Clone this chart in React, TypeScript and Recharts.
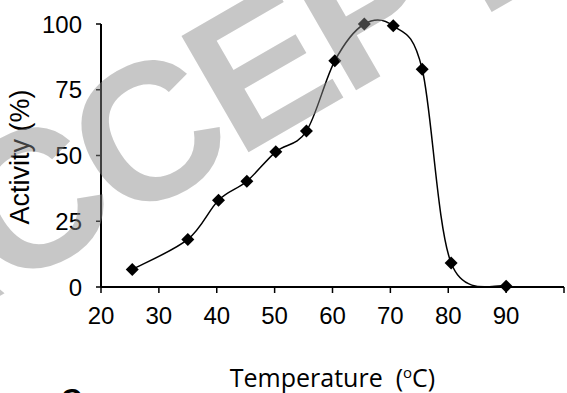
import React from 'react';
import { LineChart, Line, XAxis, YAxis } from 'recharts';

const temperatures = [25.4, 35.0, 40.3, 45.2, 50.2, 55.5, 60.4, 65.5, 70.5, 75.5, 80.5, 90.0];
const activities = [6.7, 18.1, 33.0, 40.2, 51.4, 59.3, 86.0, 100.0, 99.3, 82.8, 9.1, 0.3];
const xTicks = [20, 30, 40, 50, 60, 70, 80, 90, 100];
const yTicks = [0, 25, 50, 75, 100];
const xTitle = 'Temperature';
const yTitle = 'Activity (%)';
const panelLabel = 'C';
const watermark = 'ACCEPTED MANUSCRIPT';

const data = temperatures.map((t, i) => ({ temp: t, activity: activities[i] }));

// Excel-like smooth curve (Catmull-Rom through every point)
function smoothCurve(context: any) {
  let pts: number[][] = [];
  return {
    areaStart() {},
    areaEnd() {},
    lineStart() {
      pts = [];
    },
    point(x: number, y: number) {
      pts.push([+x, +y]);
    },
    lineEnd() {
      const n = pts.length;
      if (!n) return;
      context.moveTo(pts[0][0], pts[0][1]);
      for (let i = 0; i < n - 1; i++) {
        const p0 = pts[i - 1] || pts[i];
        const p1 = pts[i];
        const p2 = pts[i + 1];
        const p3 = pts[i + 2] || pts[i + 1];
        context.bezierCurveTo(
          p1[0] + (p2[0] - p0[0]) / 6,
          p1[1] + (p2[1] - p0[1]) / 6,
          p2[0] - (p3[0] - p1[0]) / 6,
          p2[1] - (p3[1] - p1[1]) / 6,
          p2[0],
          p2[1]
        );
      }
    },
  };
}

const Diamond = (props: any) => {
  const { cx, cy, index } = props;
  if (cx == null || cy == null) return <g key={`d-${index}`} />;
  const r = 6.5;
  return (
    <path
      key={`d-${index}`}
      d={`M${cx},${cy - r}L${cx + r},${cy}L${cx},${cy + r}L${cx - r},${cy}Z`}
      fill="#000"
    />
  );
};

const XLabel = (props: any) => {
  const vb = props.viewBox || { x: 101, y: 287, width: 463 };
  const cx = vb.x + vb.width / 2;
  return (
    <g>
      <text
        x={cx}
        y={vb.y + 100}
        textAnchor="middle"
        fontFamily="'Open Sans', sans-serif"
        fontSize={25}
        fill="#000"
      >
        {xTitle}
        {'\u00a0\u00a0('}
        <tspan fontSize={15} dy={-9}>o</tspan>
        <tspan dy={9}>C)</tspan>
      </text>
      <text x={61} y={409} fontFamily="'Liberation Sans', Arial, sans-serif" fontWeight="bold" fontSize={29} fill="#000">
        {panelLabel}
      </text>
    </g>
  );
};

const YLabel = (props: any) => {
  const vb = props.viewBox || { x: 0, y: 24, width: 101, height: 263 };
  const cx = 29;
  const cy = vb.y + vb.height / 2 + 1.5;
  return (
    <text
      x={cx}
      y={cy}
      transform={`rotate(-90 ${cx} ${cy})`}
      textAnchor="middle"
      fontFamily="'Liberation Sans', Arial, sans-serif"
      fontSize={27}
      fill="#000"
    >
      {yTitle}
    </text>
  );
};

const tickStyle = { fontFamily: "'Liberation Sans', Arial, sans-serif", fontSize: 24, fill: '#000' };

export default function App() {
  return (
    <div style={{ position: 'absolute', left: 0, top: 0, width: 567, height: 393, background: '#fff', overflow: 'hidden' }}>
      <LineChart width={567} height={393} data={data} margin={{ top: 24, right: 3, bottom: 0, left: 0 }}>
        <XAxis
          dataKey="temp"
          type="number"
          domain={[20, 100]}
          ticks={xTicks}
          interval={0}
          tickFormatter={(v: number) => (v >= 100 ? '' : String(v))}
          tick={tickStyle}
          tickSize={6}
          tickMargin={14}
          height={106}
          axisLine={{ stroke: '#000', strokeWidth: 2 }}
          tickLine={{ stroke: '#000', strokeWidth: 1.5 }}
          label={<XLabel />}
        />
        <YAxis
          type="number"
          domain={[0, 100]}
          ticks={yTicks}
          interval={0}
          tick={tickStyle}
          tickSize={5}
          tickMargin={14}
          width={101}
          axisLine={{ stroke: '#000', strokeWidth: 2 }}
          tickLine={{ stroke: '#000', strokeWidth: 1.5 }}
          label={<YLabel />}
        />
        <Line
          dataKey="activity"
          type={smoothCurve as any}
          stroke="#000"
          strokeWidth={1.5}
          dot={Diamond}
          activeDot={false}
          isAnimationActive={false}
        />
      </LineChart>
      <svg
        width={567}
        height={393}
        style={{ position: 'absolute', left: 0, top: 0, pointerEvents: 'none' }}
      >
        <text
          x={-113}
          y={361}
          transform="rotate(-30 -113 361)"
          fontFamily="'Liberation Sans', Arial, sans-serif"
          fontWeight="bold"
          fontSize={195}
          letterSpacing={-6}
          fill="#898989"
          fillOpacity={0.47}
        >
          {watermark}
        </text>
      </svg>
    </div>
  );
}
